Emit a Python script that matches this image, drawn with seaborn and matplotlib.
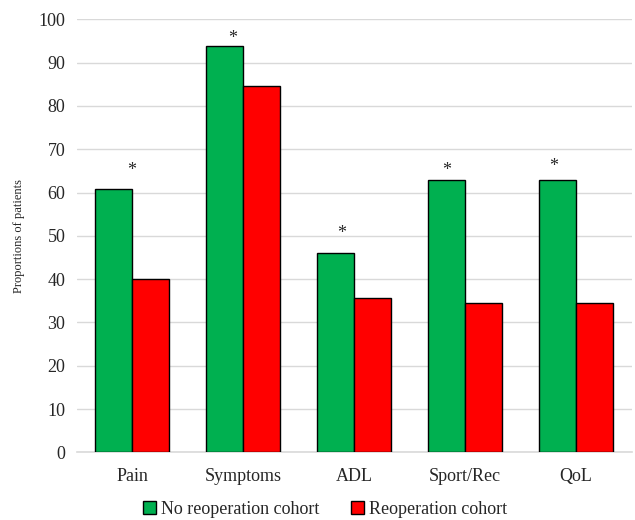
import pandas as pd
import seaborn as sns
import matplotlib.pyplot as plt

# KOOS subscale domains and the two cohorts
domains = ['Pain', 'Symptoms', 'ADL', 'Sport/Rec', 'QoL']
cohorts = ['No reoperation cohort', 'Reoperation cohort']
no_reop = [60.7, 93.8, 46.1, 62.9, 62.9]
reop = [40.1, 84.5, 35.6, 34.5, 34.6]
significant = [True, True, True, True, True]

# hand placement of the asterisks (category units / value units), as in the original
star_dx = [0.0, -0.09, -0.11, -0.165, -0.2]
star_dy = [4.4, 1.7, 4.4, 2.1, 3.1]

df = pd.DataFrame({
    'Domain': domains * 2,
    'Cohort': [cohorts[0]] * len(domains) + [cohorts[1]] * len(domains),
    'Value': no_reop + reop,
})

sns.set_style('white')
plt.rcParams['font.family'] = ['Liberation Serif', 'DejaVu Serif']

fig = plt.figure(figsize=(6.35, 5.2), dpi=100)
ax = fig.add_axes([0.1205, 0.130, 0.874, 0.833])

sns.barplot(data=df, x='Domain', y='Value', hue='Cohort', order=domains,
            hue_order=cohorts, palette=['#00B050', '#FF0000'], saturation=1,
            edgecolor='black', linewidth=1, width=0.667, ax=ax,
            errorbar=None, zorder=3)

ax.set_ylim(0, 100)
ax.set_xlim(-0.5, len(domains) - 0.5)
ax.set_yticks(range(0, 101, 10))
ax.yaxis.grid(True, color='#D9D9D9', linewidth=1, zorder=0)
ax.set_axisbelow(True)
for side in ['top', 'right', 'left']:
    ax.spines[side].set_visible(False)
ax.spines['bottom'].set_color('#D9D9D9')
ax.spines['bottom'].set_linewidth(1.2)
ax.tick_params(axis='both', length=0, labelsize=13, pad=8)
ax.tick_params(axis='x', pad=11)
ax.set_xlabel('')
ax.set_ylabel('Proportions of patients', fontsize=9, labelpad=10)

# significance asterisks above the green bars
for i, (v, sig) in enumerate(zip(no_reop, significant)):
    if sig:
        ax.text(i + star_dx[i], v + star_dy[i], '*',
                ha='center', va='center', fontsize=13)

ax.legend_.remove()
handles, labels = ax.get_legend_handles_labels()
fig.legend(handles, labels, loc='center', bbox_to_anchor=(0.512, 0.02),
           ncol=2, frameon=False, fontsize=13, handlelength=0.7,
           handleheight=0.7, handletextpad=0.25, columnspacing=1.8)

fig.savefig('out.png', dpi=100)
